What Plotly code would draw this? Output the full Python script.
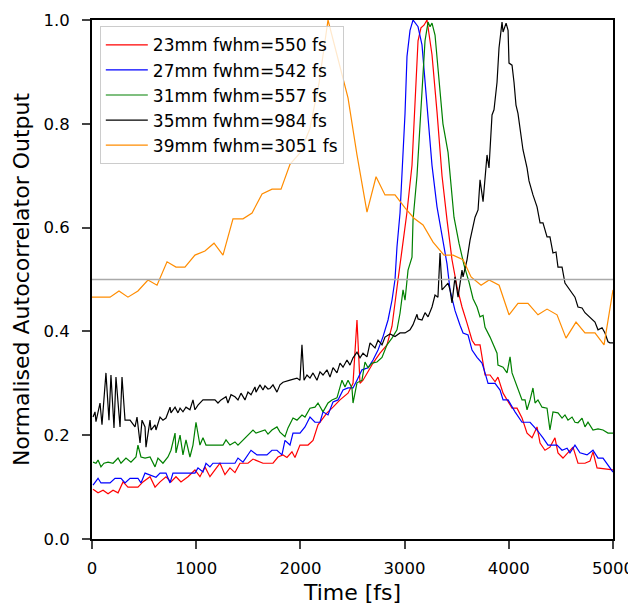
import plotly.graph_objects as go

# ---------------- data ----------------
red_x = [10, 58, 106, 154, 202, 250, 298, 345, 441, 489, 557, 605, 653, 710, 758, 806, 854, 921, 988, 1036,
         1084, 1132, 1180, 1228, 1276, 1324, 1372, 1420, 1497, 1545, 1641, 1737, 1785, 1833, 1871, 1919, 1948, 1996, 2073, 2121,
         2169, 2255, 2313, 2380, 2457, 2505, 2543, 2572, 2601, 2639, 2697, 2764, 2831, 2879, 2908, 2937, 2975, 3023, 3071, 3100,
         3129, 3157, 3186, 3215, 3263, 3311, 3359, 3407, 3455, 3503, 3551, 3599, 3647, 3676, 3724, 3772, 3820, 3868, 3896, 3945,
         4031, 4079, 4127, 4175, 4223, 4271, 4300, 4347, 4395, 4443, 4472, 4520, 4568, 4616, 4664, 4731, 4779, 4808, 4847, 5000]
red_y = [0.096, 0.089, 0.094, 0.087, 0.094, 0.089, 0.110, 0.100, 0.100, 0.110, 0.120, 0.100, 0.110, 0.120, 0.110, 0.120, 0.110, 0.120, 0.133, 0.120,
         0.139, 0.120, 0.133, 0.146, 0.124, 0.137, 0.128, 0.146, 0.146, 0.154, 0.146, 0.146, 0.158, 0.162, 0.157, 0.168, 0.157, 0.181, 0.181, 0.190,
         0.220, 0.243, 0.254, 0.268, 0.281, 0.300, 0.422, 0.300, 0.306, 0.320, 0.339, 0.358, 0.374, 0.410, 0.450, 0.500, 0.557, 0.630, 0.720, 0.850,
         0.960, 0.985, 0.990, 1.000, 0.933, 0.823, 0.700, 0.615, 0.538, 0.486, 0.447, 0.416, 0.383, 0.374, 0.374, 0.316, 0.316, 0.303, 0.312, 0.281,
         0.252, 0.252, 0.233, 0.204, 0.195, 0.216, 0.185, 0.171, 0.177, 0.195, 0.166, 0.156, 0.166, 0.177, 0.146, 0.146, 0.150, 0.168, 0.137, 0.133]

blue_x = [10, 58, 86, 173, 221, 278, 317, 365, 441, 470, 509, 614, 653, 710, 749, 777, 988, 1017, 1065, 1094,
          1132, 1161, 1372, 1401, 1449, 1526, 1583, 1679, 1727, 1775, 1823, 1852, 1900, 1929, 1996, 2044, 2092, 2140, 2188, 2217,
          2265, 2313, 2361, 2409, 2457, 2505, 2543, 2591, 2649, 2697, 2745, 2793, 2841, 2879, 2908, 2927, 2956, 2975, 3004, 3023,
          3052, 3081, 3129, 3167, 3215, 3263, 3311, 3359, 3407, 3436, 3484, 3532, 3561, 3609, 3647, 3695, 3743, 3772, 3801, 3868,
          3916, 3945, 3993, 4060, 4127, 4204, 4271, 4328, 4376, 4463, 4511, 4559, 4587, 4635, 4683, 4751, 4808, 4856, 4904, 5000]
blue_y = [0.104, 0.117, 0.108, 0.108, 0.117, 0.117, 0.108, 0.117, 0.117, 0.108, 0.127, 0.119, 0.127, 0.127, 0.108, 0.127, 0.127, 0.137, 0.129, 0.146,
          0.139, 0.146, 0.146, 0.156, 0.148, 0.171, 0.162, 0.162, 0.171, 0.171, 0.162, 0.190, 0.181, 0.204, 0.204, 0.216, 0.235, 0.225, 0.225, 0.245,
          0.239, 0.264, 0.268, 0.287, 0.291, 0.291, 0.306, 0.326, 0.330, 0.345, 0.364, 0.390, 0.422, 0.460, 0.500, 0.563, 0.628, 0.700, 0.820, 0.930,
          0.980, 1.000, 0.987, 0.952, 0.830, 0.720, 0.640, 0.585, 0.530, 0.480, 0.440, 0.412, 0.397, 0.393, 0.364, 0.350, 0.339, 0.320, 0.300, 0.300,
          0.287, 0.268, 0.268, 0.245, 0.225, 0.225, 0.210, 0.195, 0.181, 0.181, 0.171, 0.175, 0.166, 0.181, 0.166, 0.162, 0.171, 0.156, 0.156, 0.129]

green_x = [10, 38, 58, 86, 115, 154, 202, 250, 278, 326, 374, 422, 441, 470, 509, 557, 605, 633, 681, 729,
           758, 797, 806, 845, 873, 902, 940, 969, 998, 1036, 1065, 1094, 1257, 1286, 1324, 1372, 1401, 1449, 1497, 1545,
           1574, 1660, 1689, 1727, 1775, 1804, 1852, 1881, 1929, 1967, 2015, 2044, 2092, 2140, 2169, 2217, 2265, 2303, 2351, 2399,
           2428, 2457, 2495, 2505, 2543, 2591, 2620, 2649, 2687, 2735, 2783, 2831, 2879, 2927, 2956, 2985, 3004, 3033, 3071, 3081,
           3119, 3148, 3177, 3196, 3225, 3244, 3263, 3292, 3320, 3368, 3417, 3445, 3474, 3522, 3570, 3618, 3657, 3695, 3724, 3753,
           3772, 3820, 3849, 3887, 3896, 3945, 3983, 4012, 4031, 4060, 4088, 4127, 4156, 4175, 4204, 4232, 4252, 4280, 4319, 4367,
           4395, 4424, 4472, 4511, 4539, 4568, 4607, 4635, 4664, 4703, 4731, 4760, 4808, 4856, 4904, 4952, 5000]
green_y = [0.148, 0.146, 0.152, 0.139, 0.146, 0.148, 0.146, 0.156, 0.146, 0.156, 0.148, 0.158, 0.181, 0.158, 0.156, 0.158, 0.139, 0.156, 0.146, 0.158,
           0.171, 0.204, 0.166, 0.200, 0.162, 0.191, 0.158, 0.181, 0.225, 0.181, 0.195, 0.181, 0.181, 0.191, 0.181, 0.187, 0.181, 0.191, 0.200, 0.210,
           0.204, 0.210, 0.202, 0.210, 0.216, 0.206, 0.197, 0.214, 0.233, 0.229, 0.239, 0.235, 0.252, 0.254, 0.262, 0.245, 0.262, 0.268, 0.272, 0.306,
           0.293, 0.306, 0.291, 0.262, 0.301, 0.306, 0.341, 0.330, 0.339, 0.341, 0.350, 0.374, 0.387, 0.403, 0.435, 0.480, 0.460, 0.518, 0.543, 0.615,
           0.700, 0.800, 0.880, 0.960, 0.996, 0.987, 0.994, 0.971, 0.908, 0.800, 0.745, 0.678, 0.620, 0.570, 0.528, 0.495, 0.463, 0.447, 0.428, 0.431,
           0.408, 0.389, 0.374, 0.358, 0.335, 0.331, 0.320, 0.351, 0.320, 0.303, 0.291, 0.268, 0.268, 0.249, 0.268, 0.291, 0.262, 0.268, 0.254, 0.252,
           0.210, 0.245, 0.243, 0.233, 0.239, 0.229, 0.235, 0.225, 0.224, 0.233, 0.216, 0.225, 0.210, 0.212, 0.210, 0.204, 0.204]

black_x = [10, 29, 38, 77, 96, 134, 163, 182, 211, 230, 269, 288, 317, 365, 413, 432, 461, 480, 509, 518,
           557, 566, 605, 614, 653, 681, 710, 749, 758, 797, 825, 845, 873, 902, 940, 969, 988, 1017, 1065, 1180,
           1209, 1238, 1286, 1305, 1334, 1372, 1401, 1430, 1468, 1497, 1526, 1564, 1574, 1612, 1641, 1660, 1689, 1708, 1737, 1775,
           1804, 1833, 1900, 1967, 1996, 2015, 2035, 2063, 2092, 2121, 2159, 2188, 2217, 2255, 2284, 2313, 2351, 2380, 2409, 2447,
           2476, 2505, 2543, 2572, 2601, 2639, 2668, 2716, 2745, 2783, 2812, 2860, 2908, 2956, 3004, 3052, 3081, 3119, 3129, 3167,
           3196, 3225, 3263, 3292, 3320, 3340, 3359, 3388, 3417, 3436, 3455, 3484, 3513, 3551, 3561, 3599, 3628, 3676, 3705, 3724,
           3753, 3791, 3810, 3839, 3858, 3887, 3906, 3935, 3945, 3974, 3993, 4002, 4031, 4050, 4069, 4088, 4117, 4136, 4175, 4194,
           4232, 4271, 4300, 4328, 4367, 4395, 4424, 4453, 4472, 4511, 4539, 4587, 4635, 4664, 4703, 4731, 4779, 4827, 4856, 4895,
           4923, 4952, 4971, 5000]
black_y = [0.235, 0.245, 0.226, 0.262, 0.220, 0.320, 0.229, 0.316, 0.214, 0.312, 0.216, 0.312, 0.229, 0.229, 0.216, 0.235, 0.185, 0.229, 0.216, 0.177,
           0.229, 0.210, 0.220, 0.210, 0.235, 0.229, 0.233, 0.254, 0.243, 0.254, 0.243, 0.252, 0.245, 0.254, 0.249, 0.268, 0.249, 0.258, 0.268, 0.268,
           0.262, 0.268, 0.274, 0.262, 0.278, 0.274, 0.268, 0.281, 0.268, 0.283, 0.278, 0.293, 0.283, 0.297, 0.287, 0.295, 0.289, 0.290, 0.297, 0.283,
           0.297, 0.302, 0.306, 0.310, 0.306, 0.374, 0.306, 0.316, 0.310, 0.320, 0.306, 0.322, 0.316, 0.326, 0.312, 0.330, 0.320, 0.339, 0.331, 0.345,
           0.335, 0.349, 0.360, 0.349, 0.358, 0.351, 0.378, 0.368, 0.383, 0.374, 0.389, 0.395, 0.390, 0.397, 0.397, 0.403, 0.413, 0.433, 0.424, 0.422,
           0.436, 0.428, 0.447, 0.470, 0.466, 0.551, 0.480, 0.486, 0.493, 0.480, 0.455, 0.505, 0.466, 0.518, 0.505, 0.538, 0.576, 0.620, 0.634, 0.692,
           0.650, 0.740, 0.715, 0.817, 0.827, 0.880, 0.946, 0.996, 0.977, 0.994, 0.980, 0.917, 0.913, 0.880, 0.836, 0.820, 0.773, 0.750, 0.715, 0.690,
           0.663, 0.640, 0.609, 0.609, 0.582, 0.582, 0.551, 0.553, 0.524, 0.524, 0.493, 0.480, 0.466, 0.447, 0.445, 0.436, 0.426, 0.418, 0.403, 0.407,
           0.397, 0.380, 0.378, 0.378]

orange_x = [0, 86, 173, 259, 345, 441, 537, 624, 720, 806, 892, 988, 1084, 1171, 1257, 1353, 1449, 1536, 1632, 1728,
            1814, 1900, 1996, 2090, 2180, 2265, 2361, 2457, 2543, 2639, 2726, 2812, 2908, 3004, 3090, 3177, 3273, 3378, 3465, 3561,
            3638, 3734, 3811, 3907, 4002, 4088, 4184, 4280, 4367, 4463, 4549, 4645, 4731, 4827, 4914, 5000]
orange_y = [0.466, 0.466, 0.466, 0.478, 0.466, 0.478, 0.499, 0.489, 0.534, 0.524, 0.524, 0.547, 0.555, 0.570, 0.547, 0.617, 0.617, 0.628, 0.665, 0.674,
            0.674, 0.722, 0.744, 0.790, 0.880, 1.000, 0.927, 0.850, 0.740, 0.630, 0.698, 0.663, 0.663, 0.638, 0.618, 0.605, 0.572, 0.547, 0.547, 0.538,
            0.505, 0.489, 0.499, 0.489, 0.432, 0.454, 0.454, 0.432, 0.443, 0.432, 0.387, 0.418, 0.397, 0.397, 0.374, 0.480]

series_names = ["23mm fwhm=550 fs", "27mm fwhm=542 fs", "31mm fwhm=557 fs",
                "35mm fwhm=984 fs", "39mm fwhm=3051 fs"]
series_colors = ["#ff0000", "#0000ff", "#008000", "#000000", "#ff8c00"]

half_level = 0.5
x_range = [0, 5000]
x_ticks = [0, 1000, 2000, 3000, 4000, 5000]
y_ticks = [0.0, 0.2, 0.4, 0.6, 0.8, 1.0]

# ---------------- figure ----------------
series = [(red_x, red_y), (blue_x, blue_y), (green_x, green_y), (black_x, black_y), (orange_x, orange_y)]
for xs, ys in series:
    if len(xs) != len(ys):
        raise ValueError(f"length mismatch {len(xs)} vs {len(ys)}")

fig = go.Figure()
for i, ((xs, ys), name, color) in enumerate(zip(series, series_names, series_colors)):
    fig.add_trace(go.Scatter(x=xs, y=ys, mode="lines", name=name, legendgroup=f"g{i}",
                             line=dict(color=color, width=1.2)))

fig.add_trace(go.Scatter(x=x_range, y=[half_level, half_level], mode="lines", showlegend=False,
                         line=dict(color="#a9a9a9", width=1.5), hoverinfo="skip"))

font_family = "DejaVu Sans"
fig.update_layout(
    width=628, height=597,
    margin=dict(l=84, r=23, t=12, b=66, autoexpand=False),
    plot_bgcolor="white", paper_bgcolor="white",
    font=dict(family=font_family, size=16, color="#000000"),
    legend=dict(x=0.015, y=0.988, xanchor="left", yanchor="top",
                bgcolor="rgba(255,255,255,0.8)", bordercolor="#cccccc", borderwidth=1,
                font=dict(size=17), tracegroupgap=0, itemwidth=42),
    showlegend=True,
)
fig.update_xaxes(range=x_range, tickvals=x_ticks, ticks="outside", ticklen=8, tickwidth=1.5,
                 showline=True, linecolor="black", linewidth=1.8, mirror=True, showgrid=False,
                 zeroline=False, tickfont=dict(size=16.5), automargin=False, ticklabelstandoff=5,
                 title=dict(text="Time [fs]", font=dict(size=22), standoff=8))
fig.update_yaxes(range=[0, 1.0], tickvals=y_ticks, tickformat=".1f", ticks="outside", ticklen=8, tickwidth=1.5,
                 showline=True, linecolor="black", linewidth=1.8, mirror=True, showgrid=False,
                 zeroline=False, tickfont=dict(size=16.5), automargin=False, ticklabelstandoff=9,
                 title=dict(text="Normalised Autocorrelator Output", font=dict(size=22), standoff=8))

fig.write_html("out.html")
